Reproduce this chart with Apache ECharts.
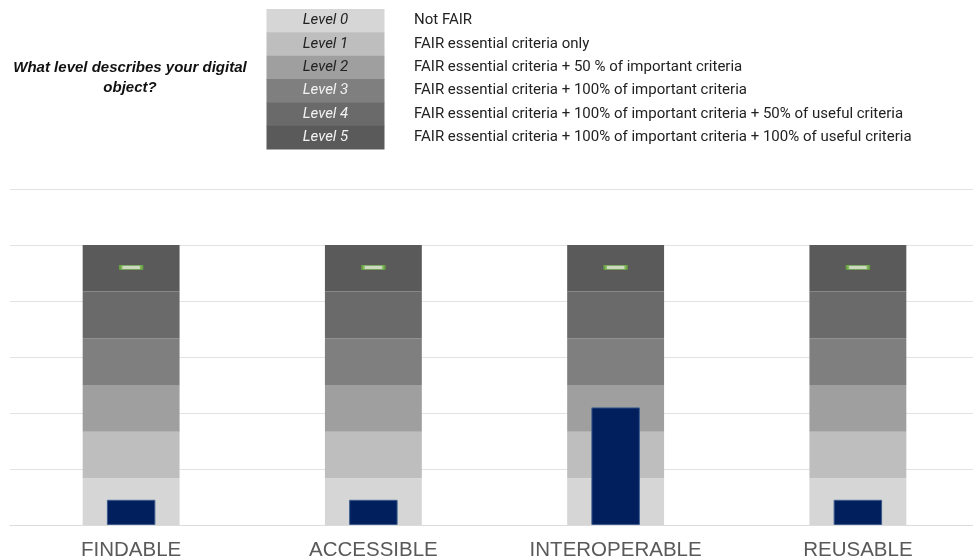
<!DOCTYPE html>
<html>
<head>
<meta charset="utf-8">
<script src="https://cdn.jsdelivr.net/npm/echarts@6/dist/echarts.min.js"></script>
<style>
  html, body { margin: 0; padding: 0; background: #ffffff; }
  #chart { width: 973px; height: 559px; }
</style>
</head>
<body>
<div id="chart"></div>
<script>
// FAIR principles
const categories = ['FINDABLE', 'ACCESSIBLE', 'INTEROPERABLE', 'REUSABLE'];

// Maturity levels shown in the key and stacked behind each principle (percent of scale)
const levelNames = ['Level 0', 'Level 1', 'Level 2', 'Level 3', 'Level 4', 'Level 5'];
const levelDescriptions = [
  'Not FAIR',
  'FAIR essential criteria only',
  'FAIR essential criteria + 50 % of important criteria',
  'FAIR essential criteria + 100% of important criteria',
  'FAIR essential criteria + 100% of important criteria + 50% of useful criteria',
  'FAIR essential criteria + 100% of important criteria + 100% of useful criteria'
];
const levelBand = [16.67, 16.67, 16.67, 16.67, 16.67, 16.67];

// Assessed score per principle
const currentScore = [9, 9, 42, 9];
// Target marker per principle
const targetScore = [92, 92, 92, 92];

const levelColors = ['#d6d6d6', '#bebebe', '#9f9f9f', '#7f7f7f', '#6a6a6a', '#5a5a5a'];
const levelTextColors = ['#222222', '#222222', '#222222', '#f2f2f2', '#f2f2f2', '#f2f2f2'];

const chart = echarts.init(document.getElementById('chart'), null, { renderer: 'canvas' });

// Level bands, stacked bottom to top
const bandSeries = levelNames.map((name, i) => ({
  name: name,
  type: 'bar',
  stack: 'levels',
  xAxisIndex: 0,
  barWidth: '40%',
  silent: true,
  itemStyle: { color: levelColors[i] },
  data: categories.map(() => levelBand[i])
}));

// Key: level swatches plus descriptions
const keyTop = 9;
const rowH = 23.33;
const keyGraphics = [];
levelNames.forEach((name, i) => {
  const y = keyTop + i * rowH;
  keyGraphics.push({
    type: 'rect',
    left: 266.5, top: y,
    shape: { width: 118, height: rowH + 0.5 },
    style: { fill: levelColors[i] },
    silent: true
  });
  keyGraphics.push({
    type: 'text',
    x: 325.5, y: y + rowH / 2,
    style: {
      text: name,
      fill: levelTextColors[i],
      font: 'italic 15px Roboto',
      textAlign: 'center',
      textVerticalAlign: 'middle'
    },
    silent: true
  });
  keyGraphics.push({
    type: 'text',
    x: 414, y: y + rowH / 2,
    style: {
      text: levelDescriptions[i],
      fill: '#222222',
      font: '15px Roboto',
      textAlign: 'left',
      textVerticalAlign: 'middle'
    },
    silent: true
  });
});
keyGraphics.push({
  type: 'text',
  x: 130, y: 78,
  style: {
    text: 'What level describes your digital\nobject?',
    fill: '#111111',
    font: 'italic bold 15px "Liberation Sans", Arial',
    lineHeight: 20,
    textAlign: 'center',
    textVerticalAlign: 'middle'
  },
  silent: true
});

chart.setOption({
  animation: false,
  backgroundColor: '#ffffff',
  grid: {
    left: 10, top: 189, width: 969, bottom: 34,
    containLabel: false,
    outerBoundsMode: 'none'
  },
  xAxis: [
    {
      type: 'category',
      data: categories,
      axisLine: { show: true, lineStyle: { color: '#dcdcdc', width: 1 } },
      axisTick: { show: false },
      axisLabel: {
        color: '#595959',
        fontSize: 20.5,
        fontFamily: '"Liberation Sans", Arial',
        margin: 15
      }
    },
    {
      type: 'category',
      data: categories,
      show: false
    }
  ],
  yAxis: {
    type: 'value',
    min: 0, max: 120, interval: 20,
    axisLabel: { show: false },
    axisLine: { show: false },
    axisTick: { show: false },
    splitLine: { lineStyle: { color: '#e2e2e2', width: 1 } }
  },
  series: bandSeries.concat([
    {
      name: 'Score',
      type: 'bar',
      xAxisIndex: 1,
      barWidth: '20%',
      silent: true,
      itemStyle: { color: '#001f5c', borderColor: '#3c5c8e', borderWidth: 1 },
      data: currentScore,
      z: 3
    },
    {
      name: 'Target',
      type: 'scatter',
      xAxisIndex: 1,
      symbol: 'rect',
      symbolSize: [21, 4],
      silent: true,
      itemStyle: { color: '#e9f7da', borderColor: '#6cb03c', borderWidth: 1.5 },
      data: targetScore,
      z: 4
    }
  ]),
  graphic: keyGraphics
});
</script>
</body>
</html>
